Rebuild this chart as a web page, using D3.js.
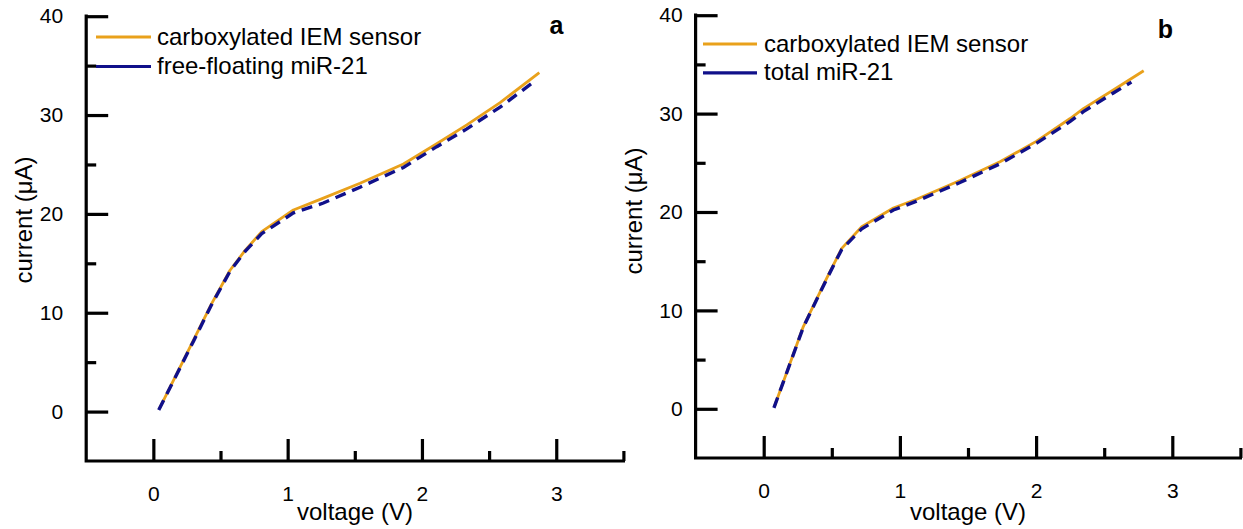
<!DOCTYPE html>
<html>
<head>
<meta charset="utf-8">
<script src="https://cdn.jsdelivr.net/npm/d3@7"></script>
<style>
  html, body { margin: 0; padding: 0; background: #fff; }
  svg { display: block; font-family: Arial, "Liberation Sans", sans-serif; }
</style>
</head>
<body>
<svg id="chart" width="1243" height="529"></svg>
<script>
// ---- data ----
const xMajorTicks = [0, 1, 2, 3];
const xMinorTicks = [0.5, 1.5, 2.5, 3.5];
const yMajorTicks = [0, 10, 20, 30, 40];
const yMinorTicks = [5, 15, 25, 35];

const seriesNames = ["carboxylated IEM sensor", "free-floating miR-21", "total miR-21"];
const panelLetters = ["a", "b"];

// panel a
const voltageA_sensor = [0.045, 0.298, 0.435, 0.571, 0.683, 0.807, 1.043, 1.266, 1.539, 1.862, 2.11, 2.334, 2.582, 2.874];
const currentA_sensor = [0.3, 7.2, 10.95, 14.3, 16.3, 18.2, 20.4, 21.6, 23.1, 25.05, 27.1, 29.0, 31.25, 34.3];
const voltageA_free   = [0.04, 0.298, 0.435, 0.571, 0.683, 0.807, 1.043, 1.266, 1.539, 1.862, 2.11, 2.334, 2.582, 2.817];
const currentA_free   = [0.15, 7.1, 10.85, 14.2, 16.2, 18.0, 20.1, 21.1, 22.7, 24.7, 26.8, 28.6, 30.8, 33.2];

// panel b
const voltageB_sensor = [0.078, 0.291, 0.463, 0.573, 0.72, 0.952, 1.123, 1.441, 1.735, 2.004, 2.25, 2.347, 2.567, 2.79];
const currentB_sensor = [0.2, 8.36, 13.27, 16.3, 18.5, 20.4, 21.3, 23.2, 25.1, 27.2, 29.5, 30.5, 32.4, 34.35];
const voltageB_total  = [0.075, 0.291, 0.463, 0.573, 0.72, 0.952, 1.123, 1.441, 1.735, 2.004, 2.25, 2.347, 2.567, 2.70];
const currentB_total  = [0.1, 8.3, 13.2, 16.2, 18.3, 20.2, 21.1, 23.0, 24.9, 27.0, 29.2, 30.2, 32.1, 33.2];

// ---- styling ----
const ORANGE = "#E9A11B";
const NAVY = "#10108A";

const svg = d3.select("#chart");

const panels = [
  {
    letter: panelLetters[0],
    xr: [86.2, 623.4], yr: [461, 16.2],
    sensor: {v: voltageA_sensor, c: currentA_sensor},
    other: {v: voltageA_free, c: currentA_free, name: seriesNames[1]},
    yLabelPad: 23,
    legend: {x1: 96, x2: 151, tx: 157, y1: 37, y2: 66.5, tb1: 45, tb2: 73.5},
    letterPos: [556.5, 34],
    yTitle: [32, 220],
    xTitle: [355, 520]
  },
  {
    letter: panelLetters[1],
    xr: [695.6, 1240.4], yr: [458, 15.2],
    sensor: {v: voltageB_sensor, c: currentB_sensor},
    other: {v: voltageB_total, c: currentB_total, name: seriesNames[2]},
    yLabelPad: 13,
    legend: {x1: 703, x2: 757, tx: 764, y1: 44, y2: 72.8, tb1: 51.5, tb2: 80},
    letterPos: [1165.5, 38],
    yTitle: [642, 211],
    xTitle: [968, 520]
  }
];

panels.forEach(p => {
  const x = d3.scaleLinear().domain([-0.5, 3.5]).range(p.xr);
  const y = d3.scaleLinear().domain([-5, 40]).range(p.yr);
  const g = svg.append("g");

  // axes lines (L shaped)
  g.append("path")
    .attr("d", `M${p.xr[0]},${p.yr[1]} L${p.xr[0]},${p.yr[0]} L${p.xr[1]},${p.yr[0]}`)
    .attr("fill", "none").attr("stroke", "#000").attr("stroke-width", 3.2)
    .attr("stroke-linecap", "square").attr("stroke-linejoin", "miter");

  // y axis with inward ticks
  const yAxis = d3.axisLeft(y).tickValues(yMajorTicks).tickSize(-22).tickSizeOuter(0)
    .tickPadding(p.yLabelPad).tickFormat(d3.format("d"));
  const yg = g.append("g").attr("transform", `translate(${p.xr[0]},0)`).call(yAxis);
  yg.select(".domain").remove();
  yg.selectAll(".tick line").attr("stroke-width", 3.2).attr("stroke", "#000");
  yg.selectAll(".tick text").attr("font-size", 21).attr("fill", "#000")
    .attr("font-family", "Arial, 'Liberation Sans', sans-serif");

  const yMinor = d3.axisLeft(y).tickValues(yMinorTicks).tickSize(-10).tickFormat("");
  const ymg = g.append("g").attr("transform", `translate(${p.xr[0]},0)`).call(yMinor);
  ymg.select(".domain").remove();
  ymg.selectAll(".tick line").attr("stroke-width", 3.2).attr("stroke", "#000");

  // x axis with inward ticks
  const xAxis = d3.axisBottom(x).tickValues(xMajorTicks).tickSize(-22).tickSizeOuter(0)
    .tickPadding(25).tickFormat(d3.format("d"));
  const xg = g.append("g").attr("transform", `translate(0,${p.yr[0]})`).call(xAxis);
  xg.select(".domain").remove();
  xg.selectAll(".tick line").attr("stroke-width", 3.2).attr("stroke", "#000");
  xg.selectAll(".tick text").attr("font-size", 21).attr("fill", "#000")
    .attr("font-family", "Arial, 'Liberation Sans', sans-serif");

  const xMinor = d3.axisBottom(x).tickValues(xMinorTicks).tickSize(-10).tickFormat("");
  const xmg = g.append("g").attr("transform", `translate(0,${p.yr[0]})`).call(xMinor);
  xmg.select(".domain").remove();
  xmg.selectAll(".tick line").attr("stroke-width", 3.2).attr("stroke", "#000");

  // lines
  const line = d3.line().x(d => x(d[0])).y(d => y(d[1]));
  const sensorPts = p.sensor.v.map((v, i) => [v, p.sensor.c[i]]);
  const otherPts = p.other.v.map((v, i) => [v, p.other.c[i]]);

  g.append("path").datum(sensorPts).attr("d", line)
    .attr("fill", "none").attr("stroke", ORANGE).attr("stroke-width", 2.8)
    .attr("stroke-linejoin", "round");
  g.append("path").datum(otherPts).attr("d", line)
    .attr("fill", "none").attr("stroke", NAVY).attr("stroke-width", 3.4)
    .attr("stroke-dasharray", "11,7");

  // legend
  const L = p.legend;
  g.append("line").attr("x1", L.x1).attr("x2", L.x2).attr("y1", L.y1).attr("y2", L.y1)
    .attr("stroke", ORANGE).attr("stroke-width", 3);
  g.append("text").attr("x", L.tx).attr("y", L.tb1).attr("font-size", 24).attr("fill", "#000")
    .text(seriesNames[0]);
  g.append("line").attr("x1", L.x1).attr("x2", L.x2).attr("y1", L.y2).attr("y2", L.y2)
    .attr("stroke", NAVY).attr("stroke-width", 3.2);
  g.append("text").attr("x", L.tx).attr("y", L.tb2).attr("font-size", 24).attr("fill", "#000")
    .text(p.other.name);

  // panel letter
  g.append("text").attr("x", p.letterPos[0]).attr("y", p.letterPos[1])
    .attr("text-anchor", "middle").attr("font-size", 25).attr("font-weight", "bold")
    .text(p.letter);

  // axis titles
  g.append("text")
    .attr("transform", `translate(${p.yTitle[0]},${p.yTitle[1]}) rotate(-90)`)
    .attr("text-anchor", "middle").attr("font-size", 24).attr("fill", "#000")
    .text("current (μA)");
  g.append("text").attr("x", p.xTitle[0]).attr("y", p.xTitle[1])
    .attr("text-anchor", "middle").attr("font-size", 24).attr("fill", "#000")
    .text("voltage (V)");
});
</script>
</body>
</html>
